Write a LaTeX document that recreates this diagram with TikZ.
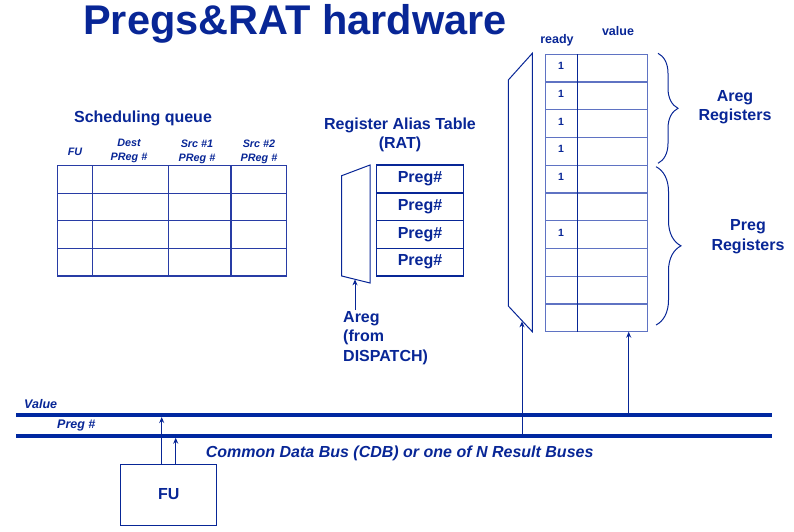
\documentclass[tikz,border=0pt]{standalone}
\usepackage{fontspec}
\setmainfont{Liberation Sans}
\usetikzlibrary{decorations.pathreplacing,arrows.meta}
\definecolor{txt}{RGB}{8,38,150}
\definecolor{busc}{RGB}{0,40,160}
\definecolor{gridc}{RGB}{40,60,165}
\definecolor{lgridc}{RGB}{95,115,195}
\begin{document}
\begin{tikzpicture}[x=1pt,y=-1pt,
  lbl/.style={text=txt,font=\bfseries\fontsize{16}{19.5}\selectfont,inner sep=0pt},
  hdr/.style={text=txt,font=\bfseries\itshape\fontsize{10.8}{14}\selectfont,inner sep=0pt,align=center},
  buslbl/.style={text=txt,font=\bfseries\itshape\fontsize{12.5}{13}\selectfont,inner sep=0pt,anchor=west},
  gridline/.style={draw=gridc,line width=1.3pt},
  lgridline/.style={draw=lgridc,line width=1.2pt},
  trap/.style={draw=txt,line width=1pt},
  ratbox/.style={draw=txt,line width=1.3pt,minimum width=86.6pt,minimum height=27.7pt,inner sep=0pt,text=txt,font=\bfseries\fontsize{16}{18}\selectfont},
  busline/.style={draw=busc,line width=4pt},
  arr/.style={draw=txt,line width=1pt,-{Stealth[length=6pt,width=5pt]}},
  bracestyle/.style={draw=txt,line width=1pt,decorate}
]
\useasboundingbox (0,0) rectangle (794,532);

% title
\node[text=txt,font=\bfseries\fontsize{41.5}{44}\selectfont,inner sep=0pt,anchor=base west] (title) at (83,35) {Pregs\&RAT hardware};

% scheduling queue
\node[lbl] (sqtitle) at (143,118) {Scheduling queue};
\foreach \y in {165.3,193.3,220.7,248.7,276} \draw[gridline] (57.3,\y) -- (286.7,\y);
\foreach \x in {57.3,92.3,168.3,231,286.7} \draw[gridline] (\x,165.3) -- (\x,276);
\node[hdr] (hfu) at (75,152) {FU};
\node[hdr] (hdest) at (129,151) {Dest\\PReg \#};
\node[hdr] (hsrc1) at (197,151.5) {Src \#1\\PReg \#};
\node[hdr] (hsrc2) at (259,151.5) {Src \#2\\PReg \#};

% RAT
\node[lbl,align=center] (rattitle) at (400,135) {Register Alias Table\\(RAT)};
\draw[trap] (341.7,175.7) -- (370,165) -- (370,283) -- (341.7,276) -- cycle;
\coordinate (ratin) at (355,279.3);
\node[ratbox] (rat1) at (420,178.9) {Preg\#};
\node[ratbox] (rat2) at (420,206.7) {Preg\#};
\node[ratbox] (rat3) at (420,234.5) {Preg\#};
\node[ratbox] (rat4) at (420,262.1) {Preg\#};
\node[lbl,align=left,anchor=north west] (areg) at (343,311) {Areg\\(from\\DISPATCH)};
\coordinate (aregtop) at (355,310);
\draw[arr] (aregtop) -- (ratin);

% register file
\draw[trap] (508.3,80) -- (532.3,53.3) -- (532.3,331.7) -- (508.3,306) -- cycle;
\coordinate (rfin) at (522,321.3);
\foreach \i in {0,...,10} \draw[lgridline] (545.7,54.3+27.74*\i) -- (647.3,54.3+27.74*\i);
\foreach \x in {545.7,577.7,647.3} \draw[lgridline] (\x,54.3) -- (\x,331.7);
\draw[draw=txt,line width=1pt] (577.7,54.3) -- (577.7,331.7);
\foreach \i/\n in {1/r1,2/r2,3/r3,4/r4,5/r5,7/r7}
  \node[text=txt,font=\bfseries\fontsize{10.5}{11}\selectfont,inner sep=0pt] (\n) at (561,54.3+27.74*\i-16) {1};
\node[text=txt,font=\bfseries\fontsize{12.5}{13}\selectfont,inner sep=0pt] (ready) at (557,40) {ready};
\node[text=txt,font=\bfseries\fontsize{12.5}{13}\selectfont,inner sep=0pt] (value) at (618,31) {value};
\coordinate (rfout) at (628.7,331.7);

\draw[bracestyle,decoration={brace,amplitude=20pt}] (658,53.3) -- (658,163.3);
\draw[bracestyle,decoration={brace,amplitude=25pt}] (656,166.7) -- (656,325);
\node[lbl,align=center] (aregreg) at (735,107) {Areg\\Registers};
\node[lbl,align=center] (pregreg) at (748,236.5) {Preg\\Registers};

% buses
\draw[busline] (16,415) -- (771.7,415);
\draw[busline] (16,435.7) -- (771.7,435.7);
\node[buslbl] (vlbl) at (24,404) {Value};
\node[buslbl] (plbl) at (57,425) {Preg \#};
\node[text=txt,font=\bfseries\itshape\fontsize{16}{18}\selectfont,inner sep=0pt,anchor=west] (cdb) at (205.7,453) {Common Data Bus (CDB) or one of N Result Buses};

\coordinate (vbusfu) at (161.7,417);
\coordinate (pbusfu) at (175.7,437.7);
\coordinate (pbusrf) at (522,436);
\coordinate (vbusrf) at (628.7,415);

% FU
\node[draw=txt,line width=1pt,minimum width=96pt,minimum height=61pt,inner sep=0pt,text=txt,font=\bfseries\fontsize{16}{18}\selectfont] (fu) at (168.7,494.5) {FU};
\draw[arr] (fu.north -| vbusfu) -- (vbusfu);
\draw[arr] (fu.north -| pbusfu) -- (pbusfu);
\draw[arr] (pbusrf) -- (rfin);
\draw[arr] (vbusrf) -- (rfout);
\end{tikzpicture}
\end{document}
